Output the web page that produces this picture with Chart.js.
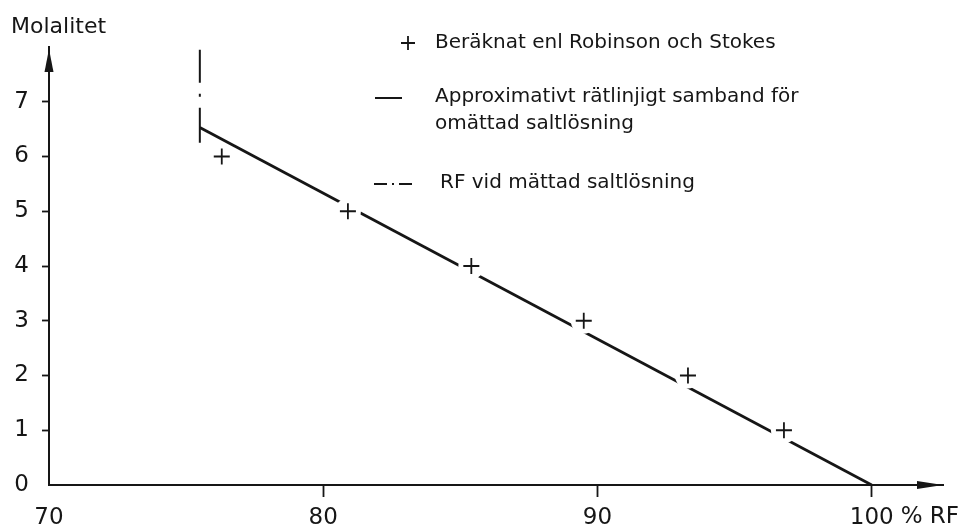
<!DOCTYPE html>
<html>
<head>
<meta charset="utf-8">
<script src="https://cdn.jsdelivr.net/npm/chart.js@4/dist/chart.umd.min.js"></script>
<style>
  html, body { margin: 0; padding: 0; background: #fff; }
  #wrap { width: 968px; height: 528px; position: relative; }
</style>
</head>
<body>
<div id="wrap"><canvas id="chart"></canvas></div>
<script>
// Tick labels
const xTicks = [70, 80, 90, 100]
const yTicks = [0, 1, 2, 3, 4, 5, 6, 7]

// + Beräknat enl Robinson och Stokes
const robinsonRF = [76.3, 80.9, 85.4, 89.5, 93.3, 96.8]
const robinsonMol = [6, 5, 4, 3, 2, 1]

// Approximativt rätlinjigt samband (end points)
const lineRF = [75.5, 100]
const lineMol = [6.53, 0]

// RF vid mättad saltlösning
const satRF = [75.5, 75.5]
const satMol = [6.25, 7.95]

const legendTexts = [
  'Beräknat enl Robinson och Stokes',
  'Approximativt rätlinjigt samband för',
  'omättad saltlösning',
  'RF vid mättad saltlösning'
]

const INK = '#161616'
const FONT = '"DejaVu Sans", sans-serif'

const toPoints = (xs, ys) => xs.map((x, i) => ({ x, y: ys[i] }))

// arrows on the axes, legend text and the "% RF" unit
const decorations = {
  id: 'decorations',
  afterDraw(chart) {
    const { ctx, chartArea: a, scales } = chart
    ctx.save()
    ctx.fillStyle = INK
    ctx.strokeStyle = INK

    // x arrow
    ctx.beginPath()
    ctx.moveTo(a.right, a.bottom)
    ctx.lineTo(a.right - 26, a.bottom - 4)
    ctx.lineTo(a.right - 26, a.bottom + 4)
    ctx.closePath()
    ctx.fill()
    // y arrow
    ctx.beginPath()
    ctx.moveTo(a.left, a.top + 2)
    ctx.lineTo(a.left - 4.5, a.top + 25)
    ctx.lineTo(a.left + 4.5, a.top + 25)
    ctx.closePath()
    ctx.fill()

    // y axis title
    ctx.font = '22px ' + FONT
    ctx.textBaseline = 'alphabetic'
    ctx.textAlign = 'left'
    ctx.fillText('Molalitet', 11, 33)

    // unit after 100
    ctx.font = '23px ' + FONT
    const x100 = scales.x.getPixelForValue(100)
    const w100 = ctx.measureText('100').width
    ctx.fillText('% RF', x100 + w100 / 2 + 7, 523)

    // legend
    ctx.font = '20px ' + FONT
    ctx.textBaseline = 'middle'
    ctx.fillText(legendTexts[0], 435, 43)
    ctx.fillText(legendTexts[1], 435, 97)
    ctx.fillText(legendTexts[2], 435, 124)
    ctx.fillText(legendTexts[3], 440, 183)

    // legend symbols
    ctx.lineWidth = 1.8
    ctx.beginPath()
    ctx.moveTo(401, 43); ctx.lineTo(415, 43)
    ctx.moveTo(408, 36); ctx.lineTo(408, 50)
    ctx.stroke()

    ctx.lineWidth = 2
    ctx.beginPath()
    ctx.moveTo(375, 98); ctx.lineTo(402, 98)
    ctx.stroke()

    ctx.setLineDash([13, 5, 2, 5])
    ctx.beginPath()
    ctx.moveTo(374, 184); ctx.lineTo(414, 184)
    ctx.stroke()
    ctx.restore()
  }
}

new Chart(document.getElementById('chart'), {
  type: 'scatter',
  data: {
    datasets: [
      {
        label: 'Beräknat enl Robinson och Stokes',
        data: toPoints(robinsonRF, robinsonMol),
        pointStyle: 'cross',
        pointRadius: 8,
        borderColor: INK,
        borderWidth: 1.8,
        order: 0
      },
      {
        // white discs break the line around the crosses
        label: 'mask',
        data: toPoints(robinsonRF, robinsonMol),
        pointStyle: 'circle',
        pointRadius: 13,
        backgroundColor: '#fff',
        borderColor: '#fff',
        borderWidth: 0,
        order: 1
      },
      {
        label: 'Approximativt rätlinjigt samband för omättad saltlösning',
        data: toPoints(lineRF, lineMol),
        showLine: true,
        borderColor: INK,
        borderWidth: 2.8,
        pointRadius: 0,
        order: 2
      },
      {
        label: 'RF vid mättad saltlösning',
        data: toPoints(satRF, satMol),
        showLine: true,
        borderColor: INK,
        borderWidth: 2,
        borderDash: [35, 11, 3, 11],
        pointRadius: 0,
        order: 3
      }
    ]
  },
  options: {
    responsive: true,
    maintainAspectRatio: false,
    animation: false,
    layout: { padding: { top: 47, right: 25, left: 0, bottom: 0 } },
    plugins: {
      legend: { display: false },
      tooltip: { enabled: false }
    },
    scales: {
      x: {
        type: 'linear',
        min: 70,
        max: 102.6,
        afterBuildTicks: (s) => { s.ticks = xTicks.map(v => ({ value: v })) },
        afterFit: (s) => { s.height = 43 },
        border: { display: true, color: INK, width: 2 },
        grid: {
          drawOnChartArea: false,
          tickLength: 12,
          tickWidth: 1.8,
          tickColor: (c) => c.tick && c.tick.value === 70 ? 'rgba(0,0,0,0)' : INK
        },
        ticks: {
          color: INK,
          padding: 7,
          maxRotation: 0,
          font: { family: FONT, size: 23 },
          callback: (v) => String(v)
        }
      },
      y: {
        type: 'linear',
        min: 0,
        max: 8,
        afterBuildTicks: (s) => { s.ticks = yTicks.map(v => ({ value: v })) },
        afterFit: (s) => { s.width = 49 },
        border: { display: true, color: INK, width: 2 },
        grid: {
          drawOnChartArea: false,
          tickLength: 7,
          tickWidth: 1.8,
          tickColor: (c) => c.tick && c.tick.value === 0 ? 'rgba(0,0,0,0)' : INK
        },
        ticks: {
          color: INK,
          padding: 13,
          font: { family: FONT, size: 23 },
          callback: (v) => String(v)
        }
      }
    }
  },
  plugins: [decorations]
})
</script>
</body>
</html>
